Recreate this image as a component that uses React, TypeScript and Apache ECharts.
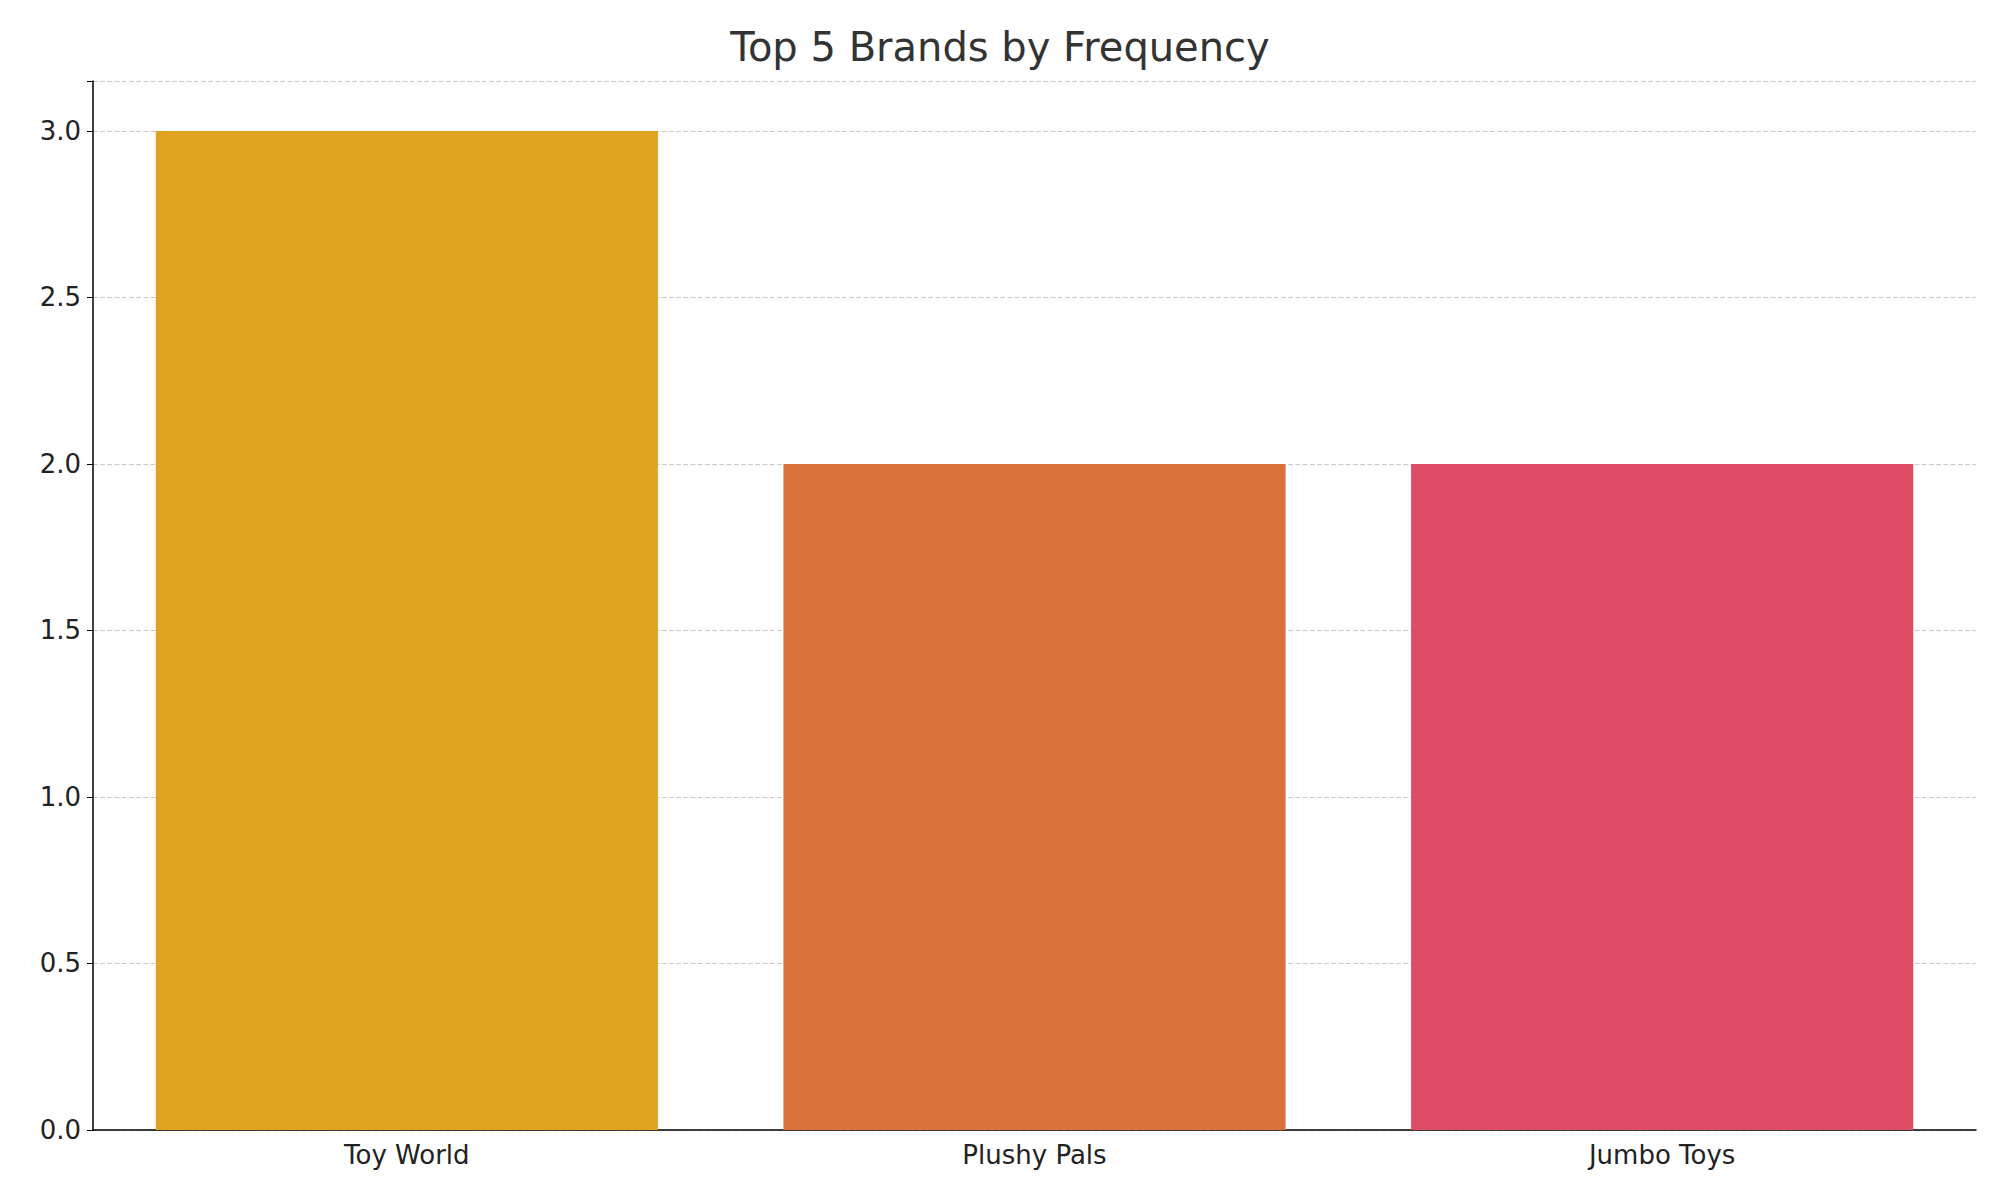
import React, { useEffect, useRef } from 'react';
import * as echarts from 'echarts';

const brands = ['Toy World', 'Plushy Pals', 'Jumbo Toys'];
const counts = [3, 2, 2];
const barColors = ['#DFA221', '#DA713B', '#DD4B65'];

export default function App() {
  const chartRef = useRef<HTMLDivElement>(null);

  useEffect(() => {
    document.body.style.margin = '0';
    if (!chartRef.current) return;
    const chart = echarts.init(chartRef.current, undefined, { renderer: 'svg' });
    const font = 'DejaVu Sans';

    chart.setOption({
      animation: false,
      title: {
        text: 'Top 5 Brands by Frequency',
        left: 'center',
        top: 22,
        textStyle: { fontFamily: font, fontSize: 40, fontWeight: 'normal', color: '#333' }
      },
      grid: { left: 93, right: 24, top: 81, bottom: 70 },
      xAxis: {
        type: 'category',
        data: brands,
        axisLine: { lineStyle: { color: '#000', width: 1.5 } },
        axisTick: { alignWithLabel: true, length: 6, lineStyle: { color: '#000' } },
        axisLabel: { fontFamily: font, fontSize: 26, color: '#222', margin: 12 }
      },
      yAxis: {
        type: 'value',
        min: 0,
        max: 3.15,
        interval: 0.5,
        axisLine: { show: true, lineStyle: { color: '#000', width: 1.5 } },
        axisTick: { show: true, length: 6, lineStyle: { color: '#000' } },
        axisLabel: {
          fontFamily: font,
          fontSize: 26,
          color: '#222',
          margin: 12,
          formatter: (v: number) => (Math.abs(v * 2 - Math.round(v * 2)) < 1e-6 ? v.toFixed(1) : '')
        },
        splitLine: { lineStyle: { color: '#c8c8c8', type: 'dashed', width: 1.2 } }
      },
      series: [
        {
          type: 'bar',
          barWidth: '80%',
          data: counts.map((v, i) => ({ value: v, itemStyle: { color: barColors[i] } }))
        }
      ]
    });

    return () => chart.dispose();
  }, []);

  return <div ref={chartRef} style={{ width: 2000, height: 1200 }} />;
}
